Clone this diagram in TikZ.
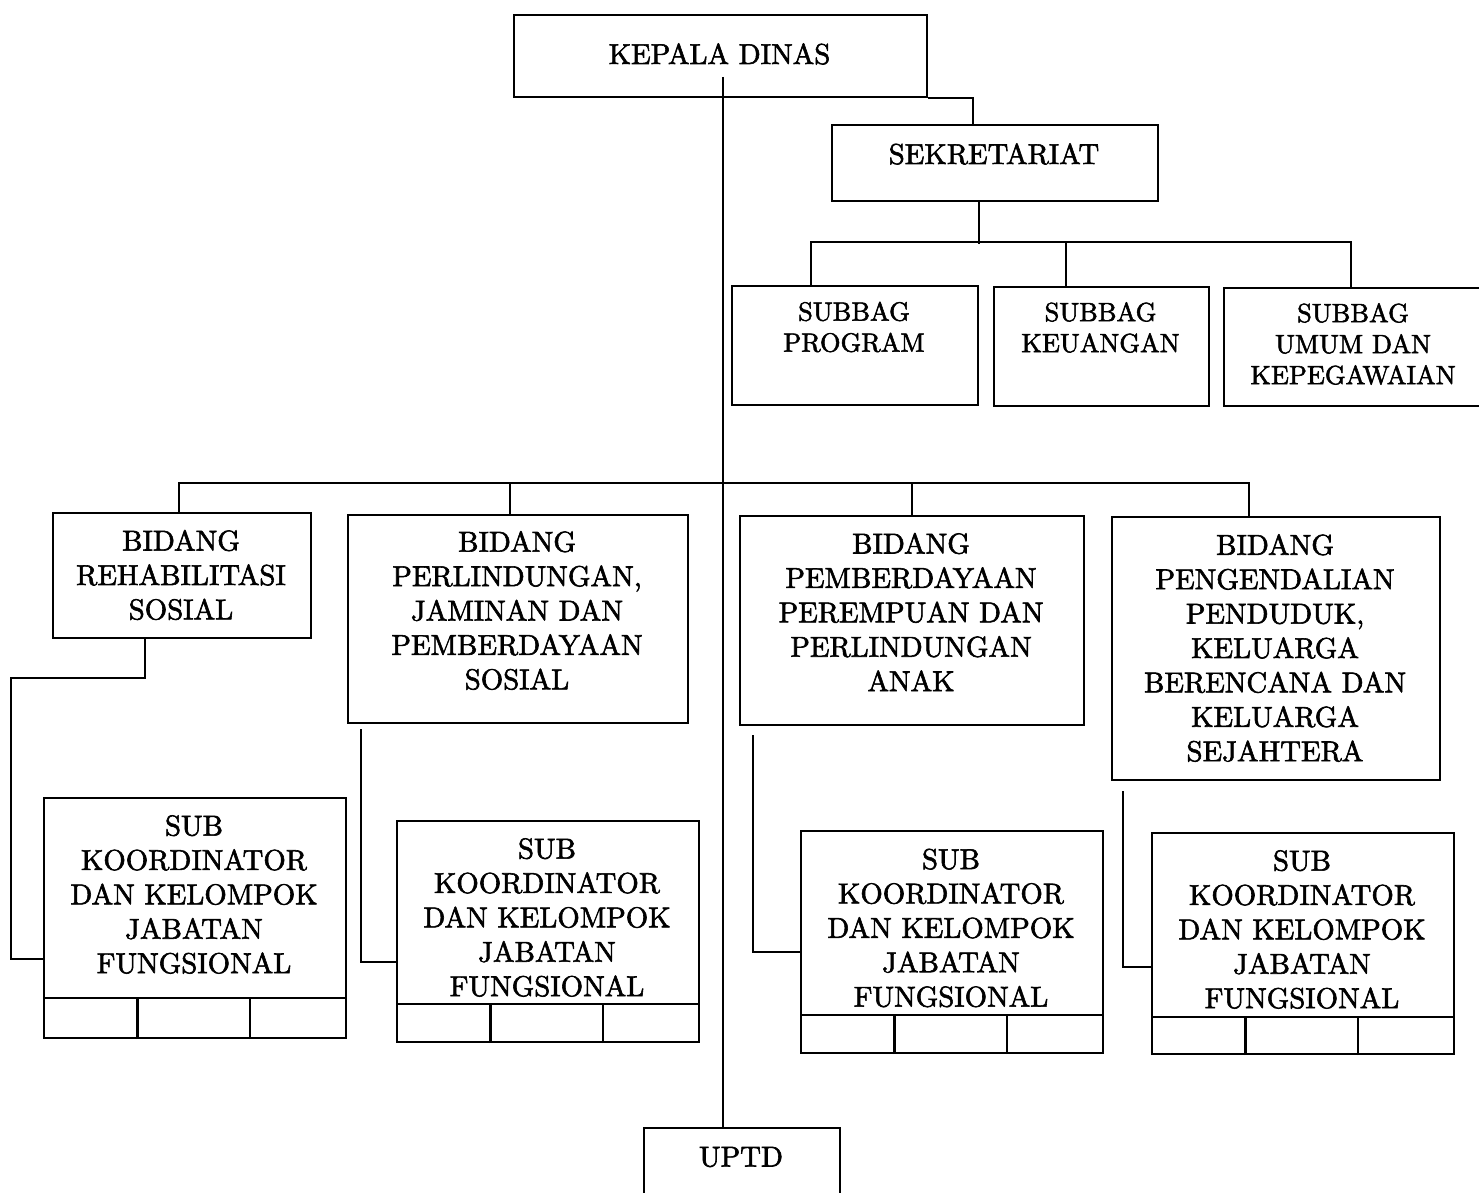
\documentclass[tikz,border=0pt]{standalone}
\usepackage{fontspec}
\setmainfont{lmroman10-regular.otf}[RawFeature={embolden=2}]
\usepackage{tikz}

\begin{document}
\begin{tikzpicture}[x=0.5pt,y=-0.5pt,line width=1.1pt,
  box/.style 2 args={draw,inner sep=0pt,anchor=north west,minimum width=#1*0.5pt,minimum height=#2*0.5pt},
  txt/.style={align=center,inner sep=0pt,font=\fontsize{14.4}{17.2}\selectfont},
  smalltxt/.style={txt,font=\fontsize{13.2}{15.5}\selectfont}]
  \useasboundingbox (0,0) rectangle (1479,1193);

  \node[box={413}{82}]  (kd)   at (513,14)   {};
  \node[box={326}{76}]  (sk)   at (831,124)  {};
  \node[box={246}{119}] (sp)   at (731,285)  {};
  \node[box={215}{119}] (sg)   at (993,286)  {};
  \node[box={259}{118}] (su)   at (1223,287) {};
  \node[box={258}{125}] (b1)   at (52,512)   {};
  \node[box={340}{208}] (b2)   at (347,514)  {};
  \node[box={344}{209}] (b3)   at (739,515)  {};
  \node[box={328}{263}] (b4)   at (1111,516) {};
  \node[box={302}{240}] (sa)   at (43,797)   {};
  \node[box={302}{221}] (sb)   at (396,820)  {};
  \node[box={302}{222}] (sc)   at (800,830)  {};
  \node[box={302}{221}] (sd)   at (1151,832) {};
  \node[box={196}{80}]  (uptd) at (643,1127) {};

  \node[txt]      (kd-t)   at (719.5,54)  {KEPALA DINAS};
  \node[txt]      (sk-t)   at (994,154)   {SEKRETARIAT};
  \node[smalltxt] (sp-t)   at (854,327)   {SUBBAG\\PROGRAM};
  \node[smalltxt] (sg-t)   at (1100.5,327.5) {SUBBAG\\KEUANGAN};
  \node[smalltxt] (su-t)   at (1353,344)  {SUBBAG\\UMUM DAN\\KEPEGAWAIAN};
  \node[txt]      (b1-t)   at (181,575)   {BIDANG\\REHABILITASI\\SOSIAL};
  \node[txt]      (b2-t)   at (517,610.5) {BIDANG\\PERLINDUNGAN,\\JAMINAN DAN\\PEMBERDAYAAN\\SOSIAL};
  \node[txt]      (b3-t)   at (911,612)   {BIDANG\\PEMBERDAYAAN\\PEREMPUAN DAN\\PERLINDUNGAN\\ANAK};
  \node[txt]      (b4-t)   at (1275,648)  {BIDANG\\PENGENDALIAN\\PENDUDUK,\\KELUARGA\\BERENCANA DAN\\KELUARGA\\SEJAHTERA};
  \node[txt]      (sa-t)   at (194,894.5) {SUB\\KOORDINATOR\\DAN KELOMPOK\\JABATAN\\FUNGSIONAL};
  \node[txt]      (sb-t)   at (547,917.5) {SUB\\KOORDINATOR\\DAN KELOMPOK\\JABATAN\\FUNGSIONAL};
  \node[txt]      (sc-t)   at (951,928)   {SUB\\KOORDINATOR\\DAN KELOMPOK\\JABATAN\\FUNGSIONAL};
  \node[txt]      (sd-t)   at (1302,929.5) {SUB\\KOORDINATOR\\DAN KELOMPOK\\JABATAN\\FUNGSIONAL};
  \node[txt]      (uptd-t) at (741,1157)  {UPTD};

  \foreach \s/\h in {sa/41,sb/39,sc/39,sd/38} {
    \draw ([yshift=\h*0.5pt]\s.south west) -- ([yshift=\h*0.5pt]\s.south east);
    \draw ([xshift=47.25pt]\s.south west) -- ++(0,-\h);
    \draw ([xshift=103.5pt]\s.south west) -- ++(0,-\h);
  }

  \coordinate (kdin) at (723,77);
  \draw (kdin) -- (kdin |- uptd.north);
  \draw (kd.south east) -| ([xshift=-11pt]sk.north);

  \draw ([xshift=-8pt]sk.south) -- ++(0,42);
  \draw ([xshift=-22pt]sp.north) -- ++(0,-43) -| ([xshift=-1.25pt]su.north);
  \draw ([xshift=-17.75pt]sg.north) -- ++(0,-44);

  \draw ([xshift=-1.5pt]b1.north) -- ++(0,-29) -| ([xshift=-13.5pt]b4.north);
  \draw ([xshift=-4pt]b2.north) -- ++(0,-31);
  \draw (b3.north) -- ++(0,-32);

  \draw ([xshift=-18.5pt]b1.south) -- ++(0,39) -- ++(-134,0) |- ([yshift=-20.5pt]sa.west);
  \draw ([xshift=7pt,yshift=-2.5pt]b2.south west) |- ([yshift=-15.25pt]sb.west);
  \draw ([xshift=7pt,yshift=-4.5pt]b3.south west) |- ([yshift=-5pt]sc.west);
  \draw ([xshift=6pt,yshift=-5pt]b4.south west) |- ([yshift=-11.75pt]sd.west);
\end{tikzpicture}
\end{document}
